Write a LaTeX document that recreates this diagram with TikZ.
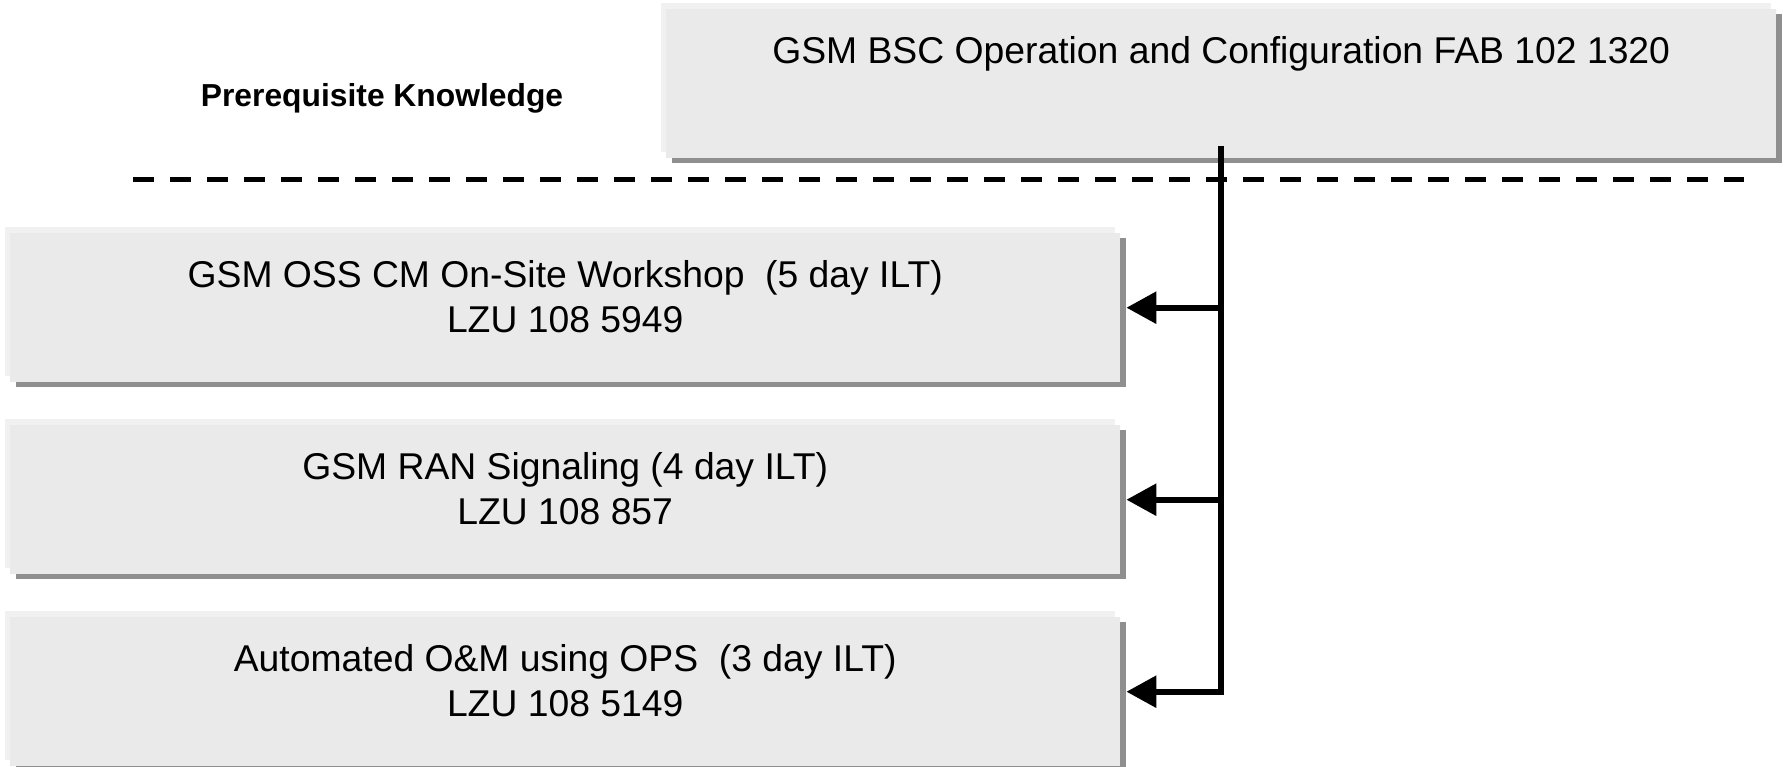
\documentclass[tikz,border=0pt]{standalone}
\usepackage{fontspec}
\setmainfont{Liberation Sans}
\usetikzlibrary{arrows.meta,shadows}
\definecolor{boxfill}{HTML}{EAEAEA}
\definecolor{boxlight}{HTML}{F1F1F1}
\definecolor{boxshade}{HTML}{8F8F8F}
\tikzset{
  course/.style={rectangle, fill=boxfill, minimum width=1110pt, minimum height=149pt,
    inner sep=0pt, anchor=north west,
    general shadow={fill=boxlight, shadow xshift=-5pt, shadow yshift=6pt},
    general shadow={fill=boxshade, shadow xshift=6pt, shadow yshift=-5pt}},
  coursetext/.style={anchor=base, align=center, inner sep=0pt,
    font=\fontsize{37.3}{45}\selectfont},
  link/.style={line width=6pt, -{Triangle[length=30pt,width=31pt]}},
  separator/.style={line width=5pt, dash pattern=on 21pt off 16pt},
}
\begin{document}
\begin{tikzpicture}[x=1pt,y=-1pt]
\useasboundingbox (0,0) rectangle (1784,767);
\node[course] (bsc) at (666,9) {};
\node[course] (oss) at (10,233) {};
\node[course] (ran) at (10,425) {};
\node[course] (ops) at (10,617) {};

\node[coursetext] (bsct) at ([yshift=-55pt]bsc.north) {GSM BSC Operation and Configuration FAB 102 1320};
\node[coursetext] (osst) at ([yshift=-99pt]oss.north) {GSM OSS CM On-Site Workshop\ \ (5 day ILT)\\LZU 108 5949};
\node[coursetext] (rant) at ([yshift=-99pt]ran.north) {GSM RAN Signaling (4 day ILT)\\LZU 108 857};
\node[coursetext] (opst) at ([yshift=-99pt]ops.north) {Automated O\&M using OPS\ \ (3 day ILT)\\LZU 108 5149};

\node[anchor=base, inner sep=0pt, font=\bfseries\fontsize{31.8}{38}\selectfont] (prereq) at (382,107) {Prerequisite Knowledge};

\coordinate (sepL) at (133,180);
\coordinate (sepR) at (1744,180);
\draw[separator] (sepL) -- (sepR);

\coordinate (trunk) at ([yshift=12pt]bsc.south);
\draw[link, line join=miter] (trunk) |- ([xshift=6pt]ops.east);
\draw[link] (trunk |- oss.east) -- ([xshift=6pt]oss.east);
\draw[link] (trunk |- ran.east) -- ([xshift=6pt]ran.east);
\end{tikzpicture}
\end{document}
